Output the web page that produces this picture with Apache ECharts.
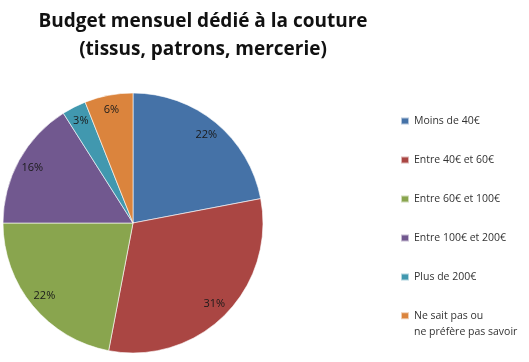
<!DOCTYPE html>
<html><head><meta charset="utf-8">
<style>html,body{margin:0;padding:0;background:#fff}#c{width:529px;height:362px}</style>
<script src="https://cdn.jsdelivr.net/npm/echarts@6/dist/echarts.min.js"></script>
</head><body><div id="c"></div>
<script>
const categories = ['Moins de 40€','Entre 40€ et 60€','Entre 60€ et 100€','Entre 100€ et 200€','Plus de 200€','Ne sait pas ou\nne préfère pas savoir'];
const values = [22, 31, 22, 16, 3, 6];
const colors = ['#4572A7','#AA4643','#89A54E','#71588F','#4198AF','#DB843D'];

const data = categories.map((n,i)=>({name:n,value:values[i],itemStyle:{color:colors[i]}}));
const legendText = {fontFamily:'Open Sans',fontSize:10.5,color:'#333',lineHeight:14};
const chart = echarts.init(document.getElementById('c'));
chart.setOption({
  animation:false,
  title:{
    text:'Budget mensuel dédié à la couture\n(tissus, patrons, mercerie)',
    left:198, top:3, textAlign:'center',
    textStyle:{fontFamily:'Open Sans',fontWeight:'bold',fontSize:19,lineHeight:28,color:'#111'}
  },
  legend:[{
    orient:'vertical', left:395, top:109, height:200,
    itemWidth:8, itemHeight:7, itemGap:25, icon:'rect',
    selectedMode:false,
    data:categories.slice(0,5),
    textStyle:legendText
  },{
    orient:'vertical', left:400, top:291, padding:0,
    itemWidth:8, itemHeight:7, icon:'rect',
    selectedMode:false,
    data:categories.slice(5),
    formatter:function(name){ return ' \n' + name; },
    textStyle:Object.assign({}, legendText, {lineHeight:16.5})
  }],
  series:[
    {type:'pie', center:[133,223], radius:130, startAngle:90, clockwise:true,
     data:data, label:{show:false}, labelLine:{show:false},
     itemStyle:{borderColor:'rgba(255,255,255,0.6)',borderWidth:1},
     emphasis:{disabled:true}},
    {type:'pie', center:[133,223], radius:[94,130], startAngle:90, clockwise:true, silent:true,
     data:categories.map((n,i)=>({name:n,value:values[i]})),
     itemStyle:{color:'rgba(0,0,0,0)'},
     label:{show:true,position:'inside',formatter:'{d}%',fontFamily:'Open Sans',fontSize:11,color:'#1a1a1a'},
     labelLine:{show:false}, emphasis:{disabled:true}, legendHoverLink:false}
  ]
});
</script></body></html>
